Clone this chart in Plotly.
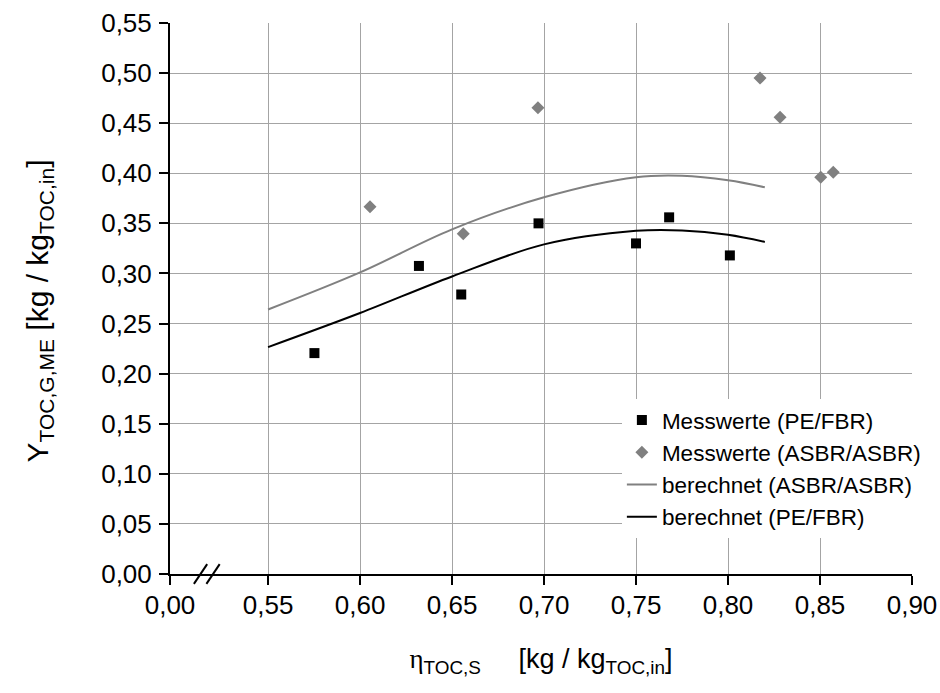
import plotly.graph_objects as go

# ---------------- data ----------------
# x-axis: break between 0,00 and 0,55; "0,00" sits one break-gap left of 0,55
x_origin_pos = 0.4967          # axis position that carries the "0,00" label
x_tick_vals = [0.55, 0.60, 0.65, 0.70, 0.75, 0.80, 0.85, 0.90]
x_tick_text = ["0,55", "0,60", "0,65", "0,70", "0,75", "0,80", "0,85", "0,90"]
x_grid_vals = [0.55, 0.60, 0.65, 0.70, 0.75, 0.80, 0.85]
y_tick_vals = [0.00, 0.05, 0.10, 0.15, 0.20, 0.25, 0.30, 0.35, 0.40, 0.45, 0.50, 0.55]
y_tick_text = ["0,00", "0,05", "0,10", "0,15", "0,20", "0,25", "0,30", "0,35",
               "0,40", "0,45", "0,50", "0,55"]
y_grid_vals = [0.05, 0.10, 0.15, 0.20, 0.25, 0.30, 0.35, 0.40, 0.45, 0.50]
break_marks_x = [0.5133, 0.5201]

# Messwerte (PE/FBR)
pe_x = [0.5752, 0.632, 0.655, 0.697, 0.750, 0.768, 0.801]
pe_y = [0.2205, 0.3075, 0.279, 0.350, 0.330, 0.356, 0.318]

# Messwerte (ASBR/ASBR)
asbr_x = [0.6054, 0.6561, 0.6967, 0.8174, 0.8283, 0.8504, 0.8572]
asbr_y = [0.3666, 0.3396, 0.4654, 0.495, 0.456, 0.396, 0.401]

# berechnet (ASBR/ASBR)
calc_asbr_x = [0.55, 0.60, 0.65, 0.70, 0.75, 0.775, 0.80, 0.82]
calc_asbr_y = [0.264, 0.301, 0.344, 0.376, 0.396, 0.3975, 0.393, 0.386]

# berechnet (PE/FBR)
calc_pe_x = [0.55, 0.60, 0.65, 0.70, 0.75, 0.775, 0.80, 0.82]
calc_pe_y = [0.2265, 0.2605, 0.297, 0.329, 0.3426, 0.343, 0.3386, 0.3315]

# ---------------- figure ----------------
FONT = "Liberation Sans, Arial, sans-serif"
GRID = "#a4a4a4"
GREY = "#808080"

fig = go.Figure()

# empty helper traces so that the grid-only overlay axes get their subplots
fig.add_trace(go.Scatter(x=[], y=[], xaxis="x2", yaxis="y", showlegend=False,
                         hoverinfo="skip", mode="lines"))
fig.add_trace(go.Scatter(x=[], y=[], xaxis="x", yaxis="y2", showlegend=False,
                         hoverinfo="skip", mode="lines"))

fig.add_trace(go.Scatter(
    x=calc_asbr_x, y=calc_asbr_y, mode="lines", name="berechnet (ASBR/ASBR)",
    line=dict(color=GREY, width=2, shape="spline", smoothing=1.0), legendrank=3))
fig.add_trace(go.Scatter(
    x=calc_pe_x, y=calc_pe_y, mode="lines", name="berechnet (PE/FBR)",
    line=dict(color="black", width=2, shape="spline", smoothing=1.0), legendrank=4))
fig.add_trace(go.Scatter(
    x=pe_x, y=pe_y, mode="markers", name="Messwerte (PE/FBR)",
    marker=dict(symbol="square", size=10, color="black", line=dict(width=0)),
    legendrank=1))
fig.add_trace(go.Scatter(
    x=asbr_x, y=asbr_y, mode="markers", name="Messwerte (ASBR/ASBR)",
    marker=dict(symbol="diamond", size=10, color=GREY, line=dict(width=0)),
    legendrank=2))

# axis-break marks "//"
for bx in break_marks_x:
    fig.add_shape(type="line", xref="x", yref="paper",
                  x0=bx - 0.0036, x1=bx + 0.0036, y0=-0.018, y1=0.018,
                  line=dict(color="black", width=2))

axis_common = dict(showline=True, linecolor="black", linewidth=2,
                   ticks="outside", ticklen=9, tickwidth=2, tickcolor="black",
                   tickfont=dict(family=FONT, size=26, color="black"),
                   showgrid=False, zeroline=False, automargin=False)

fig.update_layout(
    width=940, height=693,
    margin=dict(l=170, r=28, t=23, b=119),
    paper_bgcolor="white", plot_bgcolor="white",
    font=dict(family=FONT, color="black"),
    showlegend=True,
    legend=dict(x=0.609, y=0.318, xanchor="left", yanchor="top",
                bgcolor="white", borderwidth=0,
                font=dict(family=FONT, size=22.5, color="black")),
    xaxis=dict(range=[x_origin_pos, 0.90], tickmode="array",
               tickvals=[x_origin_pos] + x_tick_vals,
               ticktext=["0,00"] + x_tick_text,
               ticklabelstandoff=-2,
               title=dict(text="<span style=\"font-family:Liberation Serif\">η</span>"
                               "<sub>TOC,S</sub>&nbsp;&nbsp;&nbsp;&nbsp; [kg / kg<sub>TOC,in</sub>]",
                          font=dict(family=FONT, size=27, color="black"),
                          standoff=30),
               **axis_common),
    yaxis=dict(range=[0, 0.55], tickmode="array",
               tickvals=y_tick_vals, ticktext=y_tick_text,
               ticklabelstandoff=2,
               title=dict(text="Y<sub>TOC,G,ME</sub> [kg / kg<sub>TOC,in</sub>]&nbsp;&nbsp;&nbsp;",
                          font=dict(family=FONT, size=30, color="black"),
                          standoff=44),
               **axis_common),
    xaxis2=dict(overlaying="x", anchor="y", range=[x_origin_pos, 0.90],
                tickmode="array", tickvals=x_grid_vals, showticklabels=False,
                ticks="", showline=False, zeroline=False, automargin=False,
                showgrid=True, gridcolor=GRID, gridwidth=1),
    yaxis2=dict(overlaying="y", anchor="x", range=[0, 0.55],
                tickmode="array", tickvals=y_grid_vals, showticklabels=False,
                ticks="", showline=False, zeroline=False, automargin=False,
                showgrid=True, gridcolor=GRID, gridwidth=1),
)

# remove the browser's default 8 px body margin so the figure fills the window
fig.write_html("out.html",
               config={"displayModeBar": False},
               post_script="document.body.style.margin='0';document.body.style.overflow='hidden';")
